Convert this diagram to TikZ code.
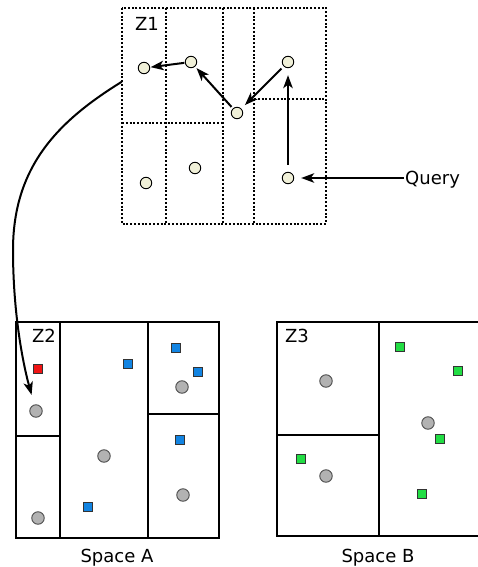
\documentclass[tikz,border=0pt]{standalone}
\usepackage{fontspec}
\setmainfont{DejaVu Sans}
\usepackage{tikz}
\usetikzlibrary{arrows.meta}
\definecolor{ptcream}{RGB}{240,240,216}
\definecolor{objgray}{RGB}{178,178,178}
\definecolor{itemblue}{RGB}{18,132,226}
\definecolor{itemgreen}{RGB}{34,221,68}
\definecolor{itemred}{RGB}{240,20,20}

\begin{document}
\begin{tikzpicture}[x=1pt, y=-1pt,
  pt/.style={circle, draw=black, fill=ptcream, minimum size=11.5pt, inner sep=0pt, line width=0.9pt},
  obj/.style={circle, draw=black!70, fill=objgray, minimum size=12.5pt, inner sep=0pt, line width=0.9pt},
  item/.style={rectangle, draw=black!80, fill=#1, minimum width=8.5pt, minimum height=9.5pt, inner sep=0pt, line width=0.9pt},
  zone/.style={line width=1.2pt},
  cell/.style={line width=1.2pt, dash pattern=on 2pt off 1.8pt},
  arr/.style={-{Stealth[length=13pt, width=9.5pt, inset=3.5pt]}, line width=2pt},
  lbl/.style={font=\fontsize{18}{20}\selectfont, inner sep=1pt},
]
  \useasboundingbox (0,0) rectangle (478,567);

  % Z1 (top, query grid)
  \draw[cell] (122,8) rectangle (326,224);
  \draw[cell] (166,8) -- (166,224);
  \draw[cell] (223,8) -- (223,224);
  \draw[cell] (254,8) -- (254,224);
  \draw[cell] (122,123) -- (223,123);
  \draw[cell] (254,99) -- (326,99);
  \node[lbl] (z1) at (147,23.5) {Z1};
  \node[pt] (q1) at (144,68) {};
  \node[pt] (q2) at (191,62) {};
  \node[pt] (q3) at (288,62) {};
  \node[pt] (q4) at (237,113) {};
  \node[pt] (q5) at (146,183) {};
  \node[pt] (q6) at (195,168) {};
  \node[pt] (q7) at (288,178) {};
  \node[lbl, anchor=west, text depth=0pt] (query) at (404,178) {Query};
  \draw[arr, shorten >=7pt] (query) -- (q7);
  \draw[arr, shorten <=7pt, shorten >=7pt] (q7) -- (q3);
  \draw[arr, shorten <=3pt, shorten >=5pt] (q3) -- (q4);
  \draw[arr, shorten <=2pt, shorten >=2pt] (q4) -- (q2);
  \draw[arr, shorten <=0.5pt, shorten >=0.5pt] (q2) -- (q1);

  % Space A
  \draw[zone] (16,322) rectangle (219,538);
  \draw[zone] (60,322) -- (60,538);
  \draw[zone] (148,322) -- (148,538);
  \draw[zone] (16,436) -- (60,436);
  \draw[zone] (148,414) -- (219,414);
  \node[lbl] (z2) at (44,335.5) {Z2};
  \node[item=itemred] (r1) at (38,369) {};
  \node[item=itemblue] (b1) at (128,364) {};
  \node[item=itemblue] (b2) at (176,348) {};
  \node[item=itemblue] (b3) at (198,372) {};
  \node[item=itemblue] (b4) at (180,440) {};
  \node[item=itemblue] (b5) at (88,507) {};
  \node[obj] (a1) at (36,411) {};
  \node[obj] (a2) at (182,387) {};
  \node[obj] (a3) at (104,456) {};
  \node[obj] (a4) at (183,495) {};
  \node[obj] (a5) at (38,518) {};
  \node[lbl] (spa) at (117,557.5) {Space A};

  % Space B
  \draw[zone] (277,322) rectangle (479.5,536);
  \draw[zone] (379,322) -- (379,536);
  \draw[zone] (277,435) -- (379,435);
  \node[lbl] (z3) at (297,336) {Z3};
  \node[item=itemgreen] (g1) at (400,347) {};
  \node[item=itemgreen] (g2) at (458,371) {};
  \node[item=itemgreen] (g3) at (440,439) {};
  \node[item=itemgreen] (g4) at (301,459) {};
  \node[item=itemgreen] (g5) at (422,494) {};
  \node[obj] (c1) at (326,381) {};
  \node[obj] (c2) at (428,423) {};
  \node[obj] (c3) at (326,476) {};
  \node[lbl] (spb) at (378,557.5) {Space B};

  % jump from Z1 down into Z2
  \draw[arr, shorten <=20pt, shorten >=10pt] (q1) .. controls (60,120) and (13,165) .. (13,250)
    .. controls (13,310) and (22,360) .. (a1);
\end{tikzpicture}
\end{document}
